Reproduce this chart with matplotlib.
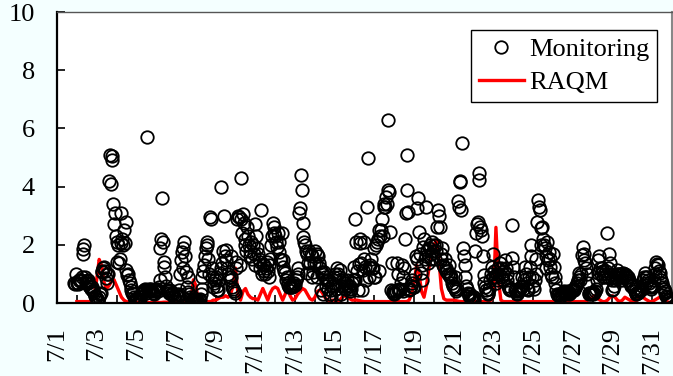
import numpy as np
import matplotlib
matplotlib.use("Agg")
import matplotlib.pyplot as plt

plt.rcParams['font.family'] = ['Liberation Serif', 'DejaVu Serif']

# hourly monitoring values, first value is 7/1 21:00
monitoring = [
    0.7, 0.65, 1.0,
    0.7, 0.7, 0.65, 0.8, 0.75, 0.8, 0.9, 1.7, 1.85, 2.0, 0.9, 0.7, 0.75, 0.8, 0.7, 0.6, 0.55, 0.5, 0.55, 0.45, 0.4, 0.35, 0.25, 0.2,
    0.15, 0.1, 0.05, 0.2, 0.3, 0.35, 1.07, 1.1, 1.2, 1.25, 1.1, 0.86, 0.69, 1.0, 1.0, 4.2, 5.1, 4.1, 5.05, 4.9, 3.4, 2.7, 3.1, 2.3,
    2.1, 1.4, 2.0, 1.37, 1.5, 2.05, 3.1, 2.2, 2.0, 2.5, 2.05, 2.8, 1.13, 0.96, 1.0, 0.8, 0.69, 0.56, 0.45, 0.35, 0.3, 0.2, 0.15, 0.1,
    0.1, 0.1, 0.05, 0.1, 0.15, 0.2, 0.3, 0.35, 0.4, 0.45, 0.5, 0.4, 0.35, 5.7, 0.45, 0.5, 0.4, 0.45, 0.5, 0.4, 0.35, 0.3, 0.4, 0.45,
    0.45, 0.5, 0.4, 0.55, 0.8, 1.9, 2.2, 3.6, 2.1, 1.4, 1.25, 0.9, 0.6, 0.45, 0.4, 0.35, 0.4, 0.45, 0.3, 0.35, 0.3, 0.25, 0.2, 0.15,
    0.3, 0.25, 0.2, 0.3, 0.45, 1.0, 1.48, 1.75, 1.2, 1.9, 2.1, 1.6, 1.07, 0.56, 0.9, 0.39, 0.3, 0.2, 0.15, 0.1, 0.1, 0.05, 0.1, 0.05,
    0.05, 0.1, 0.0, 0.05, 0.1, 0.15, 0.3, 0.5, 0.9, 1.1, 1.3, 1.6, 1.9, 2.0, 2.1, 1.5, 1.0, 2.97, 2.9, 1.2, 0.9, 0.56, 0.7, 0.8,
    0.9, 0.45, 0.6, 0.45, 0.8, 1.03, 1.2, 4.0, 1.37, 1.8, 3.0, 1.6, 1.82, 1.48, 1.2, 1.0, 0.9, 0.8, 1.6, 0.9, 0.56, 0.5, 0.4, 0.34,
    1.4, 1.2, 2.9, 3.0, 2.95, 1.3, 4.3, 2.9, 2.4, 3.05, 2.75, 2.2, 2.0, 1.8, 2.6, 2.3, 2.0, 1.8, 1.6, 2.1, 1.5, 2.0, 1.7, 1.3,
    2.7, 2.3, 1.9, 1.7, 1.5, 1.4, 1.2, 3.2, 1.0, 1.35, 1.1, 1.3, 1.0, 1.2, 1.4, 1.1, 0.9, 1.3, 1.5, 2.0, 2.3, 2.75, 2.6, 2.4,
    2.3, 2.1, 1.94, 2.4, 1.76, 2.1, 1.5, 1.48, 2.4, 1.48, 1.24, 1.1, 1.03, 0.8, 0.9, 0.7, 0.62, 0.56, 0.6, 0.55, 0.56, 0.6, 0.62, 0.7,
    0.62, 0.8, 0.9, 1.0, 1.2, 3.09, 3.26, 4.4, 3.88, 2.74, 2.28, 2.1, 2.0, 1.8, 1.03, 1.7, 1.36, 1.8, 1.36, 1.7, 1.6, 0.9, 1.07, 1.36,
    1.8, 1.36, 0.9, 1.7, 1.6, 1.36, 1.2, 0.45, 1.07, 1.0, 0.3, 1.07, 0.9, 0.8, 0.6, 0.8, 0.5, 0.8, 0.3, 0.2, 0.45, 0.6, 0.7, 0.9,
    1.0, 0.2, 0.5, 1.2, 1.0, 0.9, 1.13, 0.1, 0.3, 0.6, 0.8, 0.7, 0.5, 0.6, 0.7, 0.8, 0.6, 0.5, 0.4, 0.6, 0.5, 0.7, 0.8, 1.25,
    2.9, 0.8, 2.1, 1.1, 0.45, 1.35, 2.2, 2.06, 1.37, 0.45, 1.13, 2.1, 1.5, 1.25, 0.8, 3.3, 5.0, 1.25, 0.9, 1.3, 1.5, 1.2, 1.2, 0.9,
    1.9, 0.9, 2.0, 2.1, 2.2, 1.1, 2.5, 2.3, 2.5, 2.9, 2.3, 3.3, 3.4, 3.3, 3.65, 3.4, 3.9, 6.3, 3.8, 2.45, 0.45, 1.37, 0.35, 0.4,
    0.3, 0.35, 0.4, 1.37, 0.45, 1.0, 0.5, 0.45, 0.68, 1.3, 0.4, 0.9, 1.2, 2.2, 3.1, 5.1, 3.9, 3.14, 0.45, 0.5, 0.6, 0.7, 0.8, 0.56,
    0.56, 1.0, 1.6, 1.5, 3.26, 3.6, 2.45, 1.7, 1.03, 1.3, 0.8, 1.94, 2.2, 1.5, 1.6, 3.3, 1.82, 1.37, 1.9, 2.0, 1.5, 1.7, 2.1, 1.8,
    2.0, 1.5, 1.8, 2.0, 2.6, 3.2, 3.0, 2.6, 1.7, 1.5, 1.9, 1.3, 1.25, 1.5, 1.1, 1.2, 1.1, 1.0, 1.3, 0.9, 1.0, 0.9, 0.7, 0.6,
    0.56, 0.9, 0.5, 0.4, 0.5, 3.5, 3.3, 4.2, 4.17, 3.2, 5.5, 1.9, 1.6, 1.3, 0.9, 0.6, 0.5, 0.34, 0.3, 0.25, 0.3, 0.2, 0.15, 0.2,
    0.1, 0.2, 1.8, 2.4, 2.7, 2.8, 4.46, 4.23, 2.6, 2.5, 2.3, 1.6, 0.96, 0.7, 0.56, 0.45, 0.34, 0.3, 0.34, 0.5, 0.8, 1.0, 1.25, 1.7,
    0.9, 1.1, 0.9, 0.7, 1.0, 0.8, 1.2, 1.0, 1.37, 1.2, 0.9, 0.8, 1.0, 1.1, 1.48, 1.2, 1.0, 0.8, 0.6, 0.5, 0.45, 0.5, 2.68, 1.54,
    1.25, 0.9, 0.45, 0.4, 0.35, 0.3, 0.4, 0.45, 0.5, 0.56, 0.9, 0.6, 0.5, 0.8, 1.25, 1.0, 0.7, 0.5, 0.45, 0.9, 1.25, 2.0, 1.6, 0.9,
    0.6, 0.5, 0.8, 1.0, 1.5, 2.8, 3.54, 3.3, 3.2, 2.57, 2.0, 2.6, 2.2, 2.0, 1.9, 1.6, 1.2, 2.1, 1.48, 1.76, 1.5, 1.25, 1.0, 0.9,
    1.7, 1.25, 0.9, 0.68, 0.45, 0.3, 0.28, 0.3, 0.25, 0.22, 0.3, 0.35, 0.39, 0.4, 0.35, 0.3, 0.34, 0.35, 0.4, 0.34, 0.3, 0.35, 0.4, 0.45,
    0.45, 0.5, 0.45, 0.55, 0.6, 0.69, 0.8, 0.9, 1.03, 0.8, 1.0, 1.65, 1.94, 1.7, 1.48, 1.37, 1.2, 1.0, 0.7, 0.34, 0.3, 0.35, 0.3, 0.34,
    0.34, 0.3, 0.35, 0.4, 0.5, 0.8, 1.03, 1.48, 1.6, 1.2, 1.0, 1.2, 1.1, 0.9, 1.0, 0.9, 1.1, 2.4, 1.2, 0.9, 1.7, 1.37, 1.0, 0.8,
    0.45, 0.5, 0.6, 0.8, 0.9, 1.0, 1.13, 1.0, 0.9, 1.0, 0.9, 0.8, 1.0, 1.03, 0.9, 1.0, 0.95, 0.9, 0.8, 0.9, 0.8, 0.7, 0.6, 0.62,
    0.6, 0.62, 0.5, 0.4, 0.35, 0.3, 0.34, 0.34, 0.4, 0.45, 0.45, 0.5, 0.6, 0.8, 0.9, 1.03, 0.9, 0.69, 0.9, 0.8, 0.7, 0.6, 0.56, 0.5,
    0.56, 0.6, 0.8, 1.0, 1.2, 1.42, 1.35, 1.3, 1.1, 1.03, 0.9, 0.8, 0.7, 0.56, 0.5, 0.4, 0.34, 0.25, 0.2, 0.15, 0.1, 0.05, 0.05, 0.0,
]
obs_start_hour = 21

# 3-hourly model values, first value is 7/2 00:00
raqm = [
    0.05, 0.05, 0.05, 0.05, 0.05, 0.05, 0.1, 0.3,
    0.8, 1.5, 1.3, 0.7, 0.5, 0.6, 0.75, 0.8,
    0.6, 0.4, 0.2, 0.1, 0.05, 0.03, 0.02, 0.02,
    0.02, 0.02, 0.02, 0.02, 0.02, 0.02, 0.02, 0.02,
    0.02, 0.02, 0.02, 0.03, 0.03, 0.03, 0.03, 0.03,
    0.03, 0.03, 0.03, 0.03, 0.03, 0.05, 0.1, 0.8,
    0.6, 0.1, 0.05, 0.05, 0.05, 0.05, 0.05, 0.1,
    0.1, 0.15, 0.2, 0.2, 0.25, 0.2, 0.3, 0.6,
    1.2, 0.3, 0.1, 0.4, 0.5, 0.3, 0.2, 0.15,
    0.15, 0.1, 0.3, 0.5, 0.3, 0.1, 0.35, 0.5,
    0.55, 0.5, 0.3, 0.1, 0.3, 0.5, 0.25, 0.1,
    0.15, 0.3, 0.4, 0.5, 0.45, 0.3, 0.15, 0.1,
    0.2, 0.4, 0.45, 0.35, 0.2, 0.1, 0.05, 0.1,
    0.1, 0.05, 0.1, 0.2, 0.25, 0.2, 0.15, 0.1,
    0.1, 0.1, 0.08, 0.06, 0.05, 0.05, 0.05, 0.05,
    0.05, 0.05, 0.05, 0.05, 0.05, 0.05, 0.05, 0.05,
    0.05, 0.05, 0.05, 0.05, 0.05, 0.05, 0.1, 0.3,
    0.7, 1.3, 1.0, 0.4, 0.2, 0.6, 1.2, 1.8,
    2.0, 2.15, 1.5, 0.5, 0.15, 0.1, 0.1, 0.1,
    0.1, 0.08, 0.06, 0.05, 0.05, 0.05, 0.05, 0.05,
    0.05, 0.05, 0.05, 0.05, 0.05, 0.05, 0.05, 0.1,
    0.2, 2.6, 0.8, 0.1, 0.05, 0.05, 0.05, 0.05,
    0.05, 0.05, 0.05, 0.05, 0.05, 0.05, 0.05, 0.05,
    0.05, 0.05, 0.05, 0.05, 0.05, 0.05, 0.05, 0.05,
    0.05, 0.05, 0.05, 0.05, 0.05, 0.05, 0.05, 0.05,
    0.05, 0.05, 0.05, 0.05, 0.05, 0.05, 0.1, 0.15,
    0.2, 0.25, 0.15, 0.1, 0.05, 0.05, 0.1, 0.2,
    0.25, 0.2, 0.1, 0.05, 0.1, 0.2, 0.15, 0.1,
    0.05, 0.05, 0.1, 0.2, 0.25, 0.15, 0.1, 0.05,
    0.05, 0.1, 0.15, 0.2, 0.15, 0.1, 0.05, 0.02,
    0.02,
]
raqm_start_hour = 24

date_labels = ['7/%d' % d for d in range(1, 32, 2)]


obs_x = (obs_start_hour + np.arange(len(monitoring))) / 24.0
raqm_x = (raqm_start_hour + 3 * np.arange(len(raqm))) / 24.0

fig = plt.figure(figsize=(6.73, 3.76), dpi=100, facecolor='#f4ffff')
ax = fig.add_axes([0.0847, 0.194, 0.9138, 0.774])
ax.set_facecolor('white')

line_raqm, = ax.plot(raqm_x, raqm, color='#ff0000', lw=2.4, zorder=2, label='RAQM')
line_obs, = ax.plot(obs_x, monitoring, ls='none', marker='o', ms=9, mfc='none',
                    mec='black', mew=1.3, zorder=3, label='Monitoring')

ax.set_xlim(0, 31)
ax.set_ylim(0, 10)
ax.set_yticks(range(0, 11, 2))
ax.set_xticks(range(0, 31, 2))
ax.set_xticks(range(0, 32), minor=True)
ax.set_xticklabels(date_labels, rotation=90)

ax.tick_params(axis='both', which='both', direction='in', length=6, width=1.2, labelsize=19)
ax.tick_params(axis='y', pad=16)
ax.tick_params(axis='x', which='major', pad=17)

for side in ['left', 'bottom']:
    ax.spines[side].set_linewidth(1.6)
    ax.spines[side].set_color('black')
ax.spines['top'].set_color('#555555')
ax.spines['top'].set_linewidth(1.0)
ax.spines['right'].set_color('#888888')
ax.spines['right'].set_linewidth(1.5)

leg = ax.legend(handles=[line_obs, line_raqm], loc='upper right',
                bbox_to_anchor=(0.9756, 0.938), borderaxespad=0, fontsize=19,
                frameon=True, fancybox=False, framealpha=1, edgecolor='black',
                handlelength=1.7, handletextpad=0.2, numpoints=1,
                borderpad=0.3, labelspacing=0.35)
leg.get_frame().set_linewidth(1.0)

fig.savefig('out.png', dpi=100, facecolor=fig.get_facecolor())
